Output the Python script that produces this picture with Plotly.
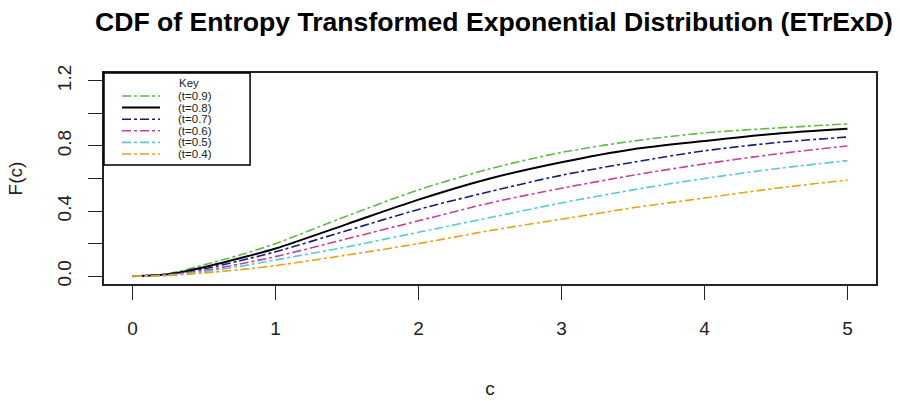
import plotly.graph_objects as go

c_vals = [0, 0.25, 0.5, 0.75, 1, 1.5, 2, 2.5, 3, 3.5, 4, 4.5, 5]
F_t09 = [0, 0.015, 0.07, 0.13, 0.20, 0.37, 0.53, 0.66, 0.76, 0.83, 0.88, 0.91, 0.935]
F_t08 = [0, 0.012, 0.055, 0.11, 0.17, 0.32, 0.47, 0.60, 0.70, 0.78, 0.83, 0.875, 0.905]
F_t07 = [0, 0.010, 0.045, 0.095, 0.15, 0.28, 0.41, 0.52, 0.62, 0.70, 0.77, 0.82, 0.855]
F_t06 = [0, 0.008, 0.035, 0.075, 0.12, 0.23, 0.34, 0.45, 0.54, 0.62, 0.69, 0.75, 0.80]
F_t05 = [0, 0.006, 0.028, 0.06, 0.10, 0.18, 0.27, 0.36, 0.45, 0.53, 0.60, 0.66, 0.71]
F_t04 = [0, 0.004, 0.02, 0.04, 0.065, 0.13, 0.20, 0.28, 0.35, 0.42, 0.48, 0.54, 0.59]

series_names = ["(t=0.9)", "(t=0.8)", "(t=0.7)", "(t=0.6)", "(t=0.5)", "(t=0.4)"]
series_vals = [F_t09, F_t08, F_t07, F_t06, F_t05, F_t04]
colors = ["#5DBB46", "#000000", "#1A1A7A", "#C8409A", "#5CC8DC", "#E8A317"]
dashes = ["dashdot", "solid", "dashdot", "dashdot", "dashdot", "dashdot"]
widths = [1.6, 2.0, 1.6, 1.6, 1.6, 1.6]

x_ticks = [0, 1, 2, 3, 4, 5]
y_ticks = [0.0, 0.2, 0.4, 0.6, 0.8, 1.0, 1.2]
y_ticktext = ["0.0", "", "0.4", "", "0.8", "", "1.2"]

FONT = "Liberation Sans, Arial, sans-serif"

PL, PR, PT, PB = 104, 875.6, 73, 284
PW, PH = PR - PL, PB - PT

def px(x):
    return (x - PL) / PW

def py(y):
    return (PB - y) / PH

fig = go.Figure()
for name, vals, col, d, w in zip(series_names, series_vals, colors, dashes, widths):
    fig.add_trace(go.Scatter(x=c_vals, y=vals, mode="lines", name=name,
                             line=dict(color=col, dash=d, width=w, shape="spline", smoothing=0.8),
                             showlegend=False, hoverinfo="skip"))

# manual R-style legend box
fig.add_shape(type="rect", xref="paper", yref="paper", x0=px(104), x1=px(250),
              y0=py(165), y1=py(73),
              line=dict(color="black", width=1.5), fillcolor="white", layer="above")
fig.add_annotation(xref="paper", yref="paper", x=px(177), y=py(83),
                   text="Key", showarrow=False, yanchor="middle",
                   font=dict(family=FONT, size=11.5, color="#222"))
row_y = [96, 107.6, 119.2, 130.8, 142.4, 154]
for name, col, d, w, yy in zip(series_names, colors, dashes, widths, row_y):
    fig.add_shape(type="line", xref="paper", yref="paper",
                  x0=px(122), x1=px(160), y0=py(yy), y1=py(yy),
                  line=dict(color=col, dash=d, width=w), layer="above")
    fig.add_annotation(xref="paper", yref="paper", x=px(177), y=py(yy),
                       text=name, showarrow=False, xanchor="left", yanchor="middle",
                       borderpad=0,
                       font=dict(family=FONT, size=11.5, color="#222"))

fig.update_layout(
    width=900, height=401,
    margin=dict(l=PL, r=900 - PR, t=PT, b=401 - PB, autoexpand=False),
    paper_bgcolor="white", plot_bgcolor="white",
    title=dict(text="<b>CDF of Entropy Transformed Exponential Distribution (ETrExD)</b>",
               x=494 / 900, xanchor="center", y=1 - 22 / 401, yanchor="middle",
               font=dict(family=FONT, size=26.6, color="black")),
    font=dict(family=FONT, color="#222"),
    xaxis=dict(range=[-0.2, 5.2], tickvals=x_ticks, ticks="outside", ticklen=14,
               tickwidth=1.3, tickcolor="#222", showline=True, linecolor="#222",
               linewidth=1.5, mirror=True, showgrid=False, zeroline=False,
               automargin=False,
               tickfont=dict(size=19), ticklabelstandoff=12,
               title=dict(text="c", font=dict(size=19), standoff=44)),
    yaxis=dict(range=[-0.048, 1.248], tickvals=y_ticks, ticktext=y_ticktext,
               ticks="outside", ticklen=14, tickwidth=1.3, tickcolor="#222",
               showline=True, linecolor="#222", linewidth=1.5, mirror=True,
               showgrid=False, zeroline=False, tickangle=-90, automargin=False,
               tickfont=dict(size=19), ticklabelstandoff=10,
               title=dict(text="F(c)", font=dict(size=19), standoff=26)),
)

fig.write_html("out.html", config={"displayModeBar": False},
               post_script="document.body.style.margin='0px';document.body.style.overflow='hidden';")
